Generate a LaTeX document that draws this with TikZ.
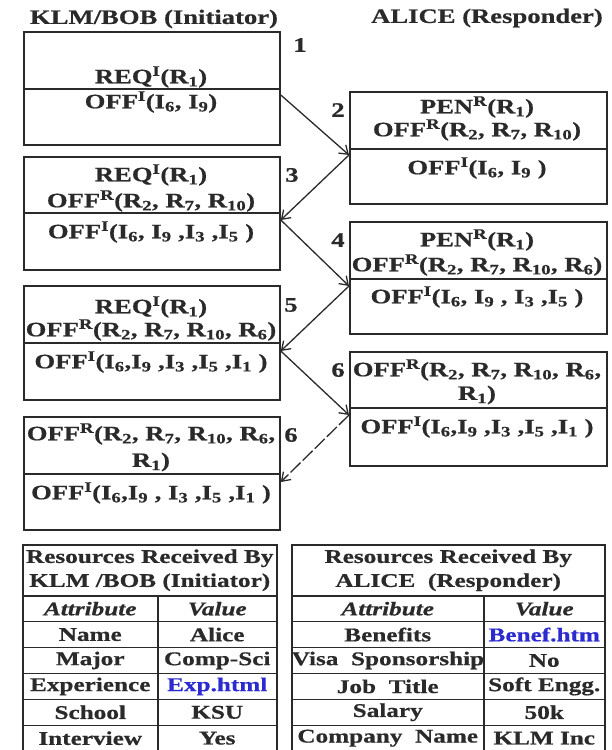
\documentclass[tikz,border=0pt]{standalone}
\usepackage{fontspec}
\setmainfont{Liberation Serif}[FakeStretch=1.3, BoldFeatures={FakeBold=0.6}, BoldItalicFeatures={FakeBold=0.6}]
\usetikzlibrary{arrows.meta}
\definecolor{ink}{HTML}{2A2A2A}
\definecolor{linkblue}{HTML}{2B2BD0}
\begin{document}
\begin{tikzpicture}[x=1pt,y=-1pt,
  part/.style={draw=ink, line width=1.8pt, inner sep=0pt, anchor=north west},
  lpart/.style={part, minimum width=256pt},
  rpart/.style={part, minimum width=257pt},
  txt/.style={font=\fontsize{20.5}{22}\selectfont\bfseries, text=ink, inner sep=0pt},
  ttl/.style={font=\fontsize{20.5}{22}\selectfont\bfseries, text=ink, inner sep=0pt},
  num/.style={font=\fontsize{20.5}{22}\selectfont\bfseries, text=ink, inner sep=0pt},
  arr/.style={draw=ink, line width=1.3pt, -{Straight Barb[length=8pt,width=11pt]}},
  cell/.style={draw=ink, line width=1.5pt, anchor=north west, inner sep=0pt, align=center,
    font=\fontsize{19.4}{24}\selectfont\bfseries, text=ink},
  ital/.style={font=\fontsize{19.4}{24}\selectfont\bfseries\itshape},
  lc1/.style={cell, minimum width=135pt, minimum height=25.9pt},
  lc2/.style={cell, minimum width=119pt, minimum height=25.9pt},
  rc1/.style={cell, minimum width=192pt, minimum height=25.9pt},
  rc2/.style={cell, minimum width=121pt, minimum height=25.9pt}]
\useasboundingbox (0,0) rectangle (611,750);

% titles
\node[ttl] (tl) at (154,19) {KLM/BOB (Initiator)};
\node[ttl] (tr) at (487,18) {ALICE (Responder)};

% left boxes
\node[lpart, minimum height=57pt] (b1t) at (23,31) {};
\node[lpart, minimum height=56pt] (b1b) at (23,88) {};
\node[lpart, minimum height=56pt] (b3t) at (23,156) {};
\node[lpart, minimum height=57pt] (b3b) at (23,212) {};
\node[lpart, minimum height=57pt] (b5t) at (23,285) {};
\node[lpart, minimum height=57pt] (b5b) at (23,342) {};
\node[lpart, minimum height=57pt] (b7t) at (23,416) {};
\node[lpart, minimum height=56pt] (b7b) at (23,473) {};
% right boxes
\node[rpart, minimum height=57pt] (b2t) at (349,91) {};
\node[rpart, minimum height=55pt] (b2b) at (349,148) {};
\node[rpart, minimum height=57pt] (b4t) at (349,221) {};
\node[rpart, minimum height=55pt] (b4b) at (349,278) {};
\node[rpart, minimum height=56pt] (b6t) at (349,351) {};
\node[rpart, minimum height=58pt] (b6b) at (349,407) {};

% box texts left
\node[txt] (x1a) at (151,77) {REQ\textsuperscript{I}(R\textsubscript{1})};
\node[txt] (x1b) at (151,102) {OFF\textsuperscript{I}(I\textsubscript{6}, I\textsubscript{9})};
\node[txt] (x3a) at (151,175) {REQ\textsuperscript{I}(R\textsubscript{1})};
\node[txt] (x3b) at (151,201) {OFF\textsuperscript{R}(R\textsubscript{2}, R\textsubscript{7}, R\textsubscript{10})};
\node[txt] (x3c) at (151,232) {OFF\textsuperscript{I}(I\textsubscript{6}, I\textsubscript{9} ,I\textsubscript{3} ,I\textsubscript{5} )};
\node[txt] (x5a) at (151,307) {REQ\textsuperscript{I}(R\textsubscript{1})};
\node[txt] (x5b) at (151,330) {OFF\textsuperscript{R}(R\textsubscript{2}, R\textsubscript{7}, R\textsubscript{10}, R\textsubscript{6})};
\node[txt] (x5c) at (151,362) {OFF\textsuperscript{I}(I\textsubscript{6},I\textsubscript{9} ,I\textsubscript{3} ,I\textsubscript{5} ,I\textsubscript{1} )};
\node[txt] (x7a) at (151,434) {OFF\textsuperscript{R}(R\textsubscript{2}, R\textsubscript{7}, R\textsubscript{10}, R\textsubscript{6},};
\node[txt] (x7b) at (151,462) {R\textsubscript{1})};
\node[txt] (x7c) at (151,493) {OFF\textsuperscript{I}(I\textsubscript{6},I\textsubscript{9} , I\textsubscript{3} ,I\textsubscript{5} ,I\textsubscript{1} )};
% box texts right
\node[txt] (x2a) at (477,107) {PEN\textsuperscript{R}(R\textsubscript{1})};
\node[txt] (x2b) at (477,130) {OFF\textsuperscript{R}(R\textsubscript{2}, R\textsubscript{7}, R\textsubscript{10})};
\node[txt] (x2c) at (477,168) {OFF\textsuperscript{I}(I\textsubscript{6}, I\textsubscript{9} )};
\node[txt] (x4a) at (477,240) {PEN\textsuperscript{R}(R\textsubscript{1})};
\node[txt] (x4b) at (477,265) {OFF\textsuperscript{R}(R\textsubscript{2}, R\textsubscript{7}, R\textsubscript{10}, R\textsubscript{6})};
\node[txt] (x4c) at (477,297) {OFF\textsuperscript{I}(I\textsubscript{6}, I\textsubscript{9} , I\textsubscript{3} ,I\textsubscript{5} )};
\node[txt] (x6a) at (477,370) {OFF\textsuperscript{R}(R\textsubscript{2}, R\textsubscript{7}, R\textsubscript{10}, R\textsubscript{6},};
\node[txt] (x6b) at (477,395) {R\textsubscript{1})};
\node[txt] (x6c) at (477,427) {OFF\textsuperscript{I}(I\textsubscript{6},I\textsubscript{9} ,I\textsubscript{3} ,I\textsubscript{5} ,I\textsubscript{1} )};

% step numbers
\node[num] (n1) at (300,45) {1};
\node[num] (n2) at (338,110) {2};
\node[num] (n3) at (292,175) {3};
\node[num] (n4) at (338,240) {4};
\node[num] (n5) at (291,305) {5};
\node[num] (n6) at (338,370) {6};
\node[num] (n7) at (291,435) {6};

% arrows
\draw[arr] ([yshift=-7pt]b1b.north east) -- ([yshift=-7pt]b2b.north west);
\draw[arr] ([yshift=-7pt]b2b.north west) -- ([yshift=-8pt]b3b.north east);
\draw[arr] ([yshift=-8pt]b3b.north east) -- ([yshift=-8pt]b4b.north west);
\draw[arr] ([yshift=-8pt]b4b.north west) -- ([yshift=-9pt]b5b.north east);
\draw[arr] ([yshift=-9pt]b5b.north east) -- ([yshift=-8pt]b6b.north west);
\draw[arr, dash pattern=on 14pt off 3pt] ([yshift=-8pt]b6b.north west) -- ([yshift=-9pt]b7b.north east);

% left table
\node[cell, minimum width=254pt, minimum height=51pt] (lh) at (22,544) {Resources Received By\\KLM /BOB (Initiator)};
\node[lc1, ital] (la1) at (22,595) {Attribute};
\node[lc2, ital] (la2) at (157,595) {Value};
\node[lc1] (lr1a) at (22,620.9) {Name};
\node[lc2] (lr1b) at (157,620.9) {Alice};
\node[lc1] (lr2a) at (22,646.8) {Major};
\node[lc2] (lr2b) at (157,646.8) {Comp-Sci};
\node[lc1] (lr3a) at (22,672.7) {Experience};
\node[lc2, text=linkblue] (lr3b) at (157,672.7) {Exp.html};
\node[lc1] (lr4a) at (22,698.6) {School};
\node[lc2] (lr4b) at (157,698.6) {KSU};
\node[lc1] (lr5a) at (22,724.5) {Interview};
\node[lc2] (lr5b) at (157,724.5) {Yes};

% right table
\node[cell, minimum width=313pt, minimum height=51pt] (rh) at (291,544) {Resources Received By\\ALICE\ \ (Responder)};
\node[rc1, ital] (ra1) at (291,595) {Attribute};
\node[rc2, ital] (ra2) at (483,595) {Value};
\node[rc1] (rr1a) at (291,620.9) {Benefits};
\node[rc2, text=linkblue] (rr1b) at (483,620.9) {Benef.htm};
\node[rc1] (rr2a) at (291,646.8) {Visa\ \ Sponsorship};
\node[rc2] (rr2b) at (483,646.8) {No};
\node[rc1] (rr3a) at (291,672.7) {Job\ \ Title};
\node[rc2] (rr3b) at (483,672.7) {Soft Engg.};
\node[rc1] (rr4a) at (291,698.6) {Salary};
\node[rc2] (rr4b) at (483,698.6) {50k};
\node[rc1] (rr5a) at (291,724.5) {Company\ \ Name};
\node[rc2] (rr5b) at (483,724.5) {KLM Inc};
\end{tikzpicture}
\end{document}
